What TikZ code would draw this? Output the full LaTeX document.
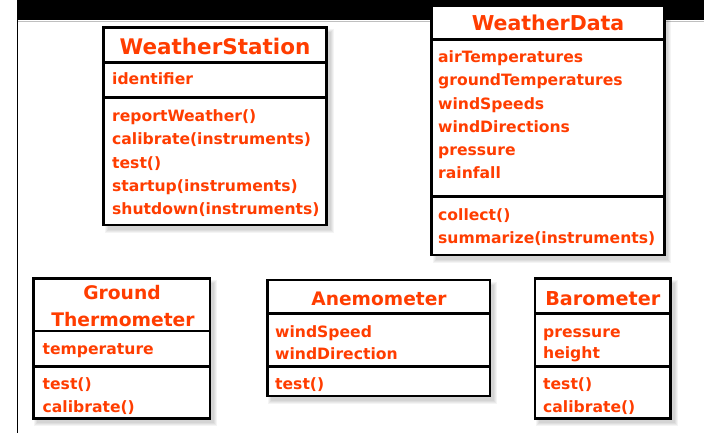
\documentclass[tikz,border=0pt]{standalone}
\usepackage{fontspec}
\setmainfont{DejaVu Sans}
\definecolor{umlred}{RGB}{255,61,0}
\newcommand{\umlshadow}[4]{%
  \foreach \b in {0,1,2,3}{%
    \fill[black,opacity=0.045] ({#1+4-\b},{#2+5-\b}) rectangle ({#3+4+\b},{#4+5+\b});
  }%
}
\begin{document}
\begin{tikzpicture}[x=1pt,y=-1pt,
  umlbox/.style={draw=black, line width=2.7pt, fill=white},
  divider/.style={draw=black, line width=2.7pt},
  body/.style={font=\fontsize{15.6}{19}\selectfont\bfseries, text=umlred, inner sep=0pt, anchor=base west},
  title/.style={text=umlred, inner sep=0pt, anchor=base},
]
\useasboundingbox (0,0) rectangle (704,433);
\fill[white] (0,0) rectangle (704,433);
% frame of the slide
\fill[black] (17,0) rectangle (704,20);
\draw[black!25, line width=1.5pt] (17,21.5) -- (704,21.5);
\draw[black, line width=1.5pt] (17.5,0) -- (17.5,433);

% ---------- WeatherStation ----------
\umlshadow{103.5}{27.5}{326.5}{225}
\draw[umlbox] (103.5,27.5) rectangle (326.5,225);
\draw[divider] (103.5,62.5) -- (326.5,62.5);
\draw[divider] (103.5,97.5) -- (326.5,97.5);
\node[title, font=\fontsize{21.5}{24}\selectfont\bfseries] (ws-title) at (215,55) {WeatherStation};
\node[body] (ws-a1) at (112,85) {identifier};
\foreach \t [count=\i] in {reportWeather(),calibrate(instruments),test(),startup(instruments),shutdown(instruments)}
  \node[body] (ws-m\i) at (112,{122+(\i-1)*23}) {\t};

% ---------- WeatherData ----------
\umlshadow{431.7}{5.7}{664.3}{255}
\draw[umlbox] (431.7,5.7) rectangle (664.3,255);
\draw[divider] (431.7,39.3) -- (664.3,39.3);
\draw[divider] (431.7,196.7) -- (664.3,196.7);
\node[title, font=\fontsize{20.5}{23}\selectfont\bfseries] (wd-title) at (548,30.7) {WeatherData};
\foreach \t [count=\i] in {airTemperatures,groundTemperatures,windSpeeds,windDirections,pressure,rainfall}
  \node[body] (wd-a\i) at (438,{62.7+(\i-1)*23.2}) {\t};
\foreach \t [count=\i] in {collect(),summarize(instruments)}
  \node[body] (wd-m\i) at (438,{220+(\i-1)*23}) {\t};

% ---------- Ground Thermometer ----------
\umlshadow{33.3}{278.3}{210}{418.3}
\draw[umlbox] (33.3,278.3) rectangle (210,418.3);
\draw[divider] (33.3,331) -- (210,331);
\draw[divider] (33.3,366.7) -- (210,366.7);
\node[title, font=\fontsize{18.7}{21}\selectfont\bfseries] (gt-title1) at (122,299.3) {Ground};
\node[title, font=\fontsize{18.7}{21}\selectfont\bfseries] (gt-title2) at (123,326.7) {Thermometer};
\node[body] (gt-a1) at (42.5,354.3) {temperature};
\node[body] (gt-m1) at (42.5,389.3) {test()};
\node[body] (gt-m2) at (42.5,412) {calibrate()};

% ---------- Anemometer ----------
\umlshadow{267.3}{280}{490}{396}
\draw[umlbox] (267.3,280) rectangle (490,396);
\draw[divider] (267.3,313.3) -- (490,313.3);
\draw[divider] (267.3,366.7) -- (490,366.7);
\node[title, font=\fontsize{18.6}{21}\selectfont\bfseries] (an-title) at (379,305) {Anemometer};
\node[body] (an-a1) at (275,337) {windSpeed};
\node[body] (an-a2) at (275,359.3) {windDirection};
\node[body] (an-m1) at (275,389.3) {test()};

% ---------- Barometer ----------
\umlshadow{535}{278.3}{670.7}{418.3}
\draw[umlbox] (535,278.3) rectangle (670.7,418.3);
\draw[divider] (535,313.3) -- (670.7,313.3);
\draw[divider] (535,366.7) -- (670.7,366.7);
\node[title, font=\fontsize{19.2}{22}\selectfont\bfseries] (ba-title) at (602.8,305) {Barometer};
\node[body] (ba-a1) at (543,337.7) {pressure};
\node[body] (ba-a2) at (543,358.7) {height};
\node[body] (ba-m1) at (543,389.3) {test()};
\node[body] (ba-m2) at (543,412) {calibrate()};
\end{tikzpicture}
\end{document}
